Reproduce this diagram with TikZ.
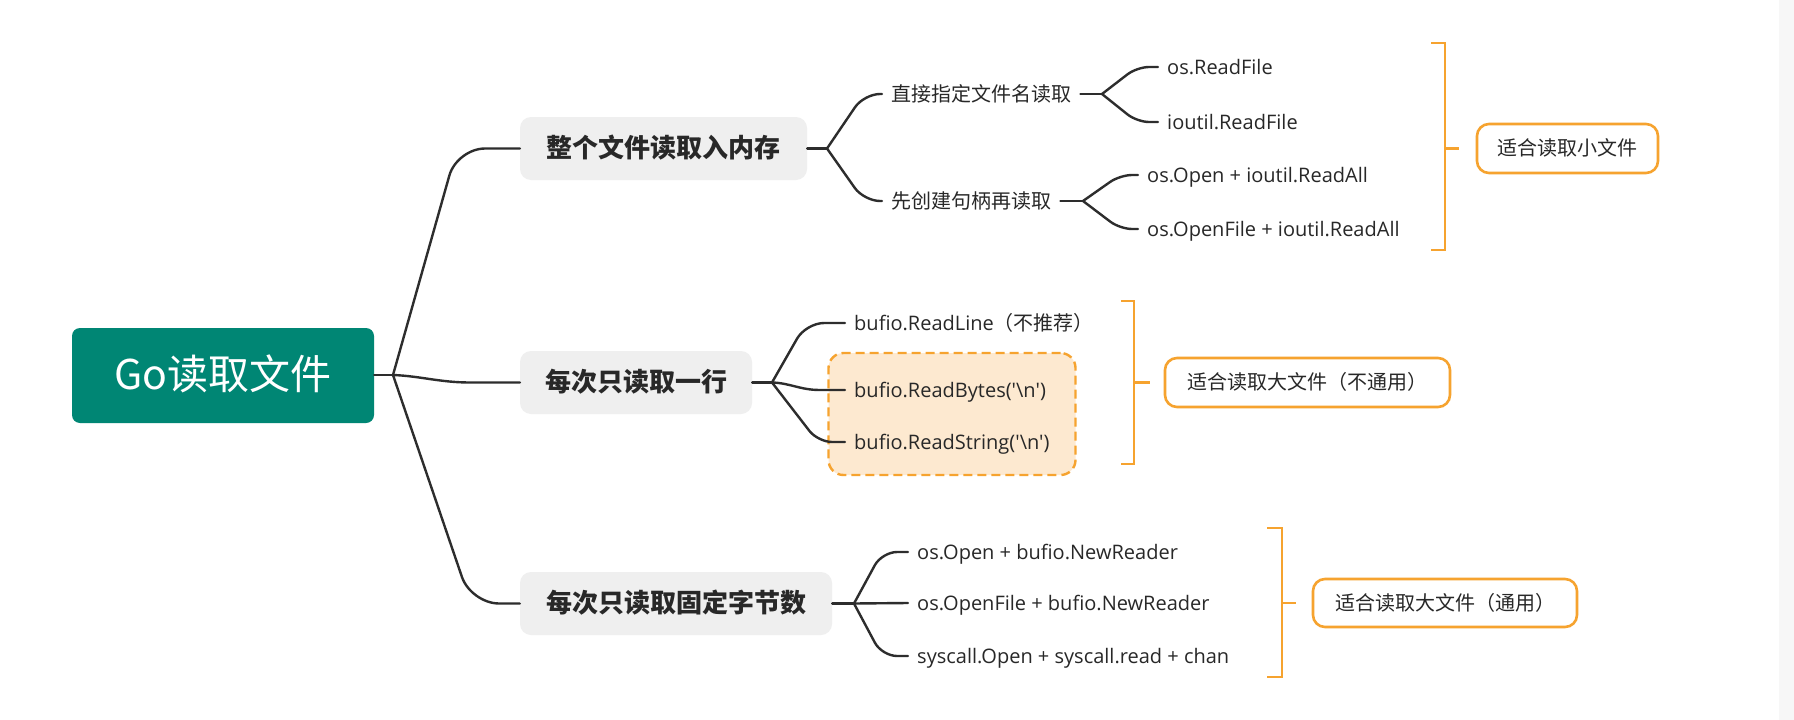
\documentclass[tikz,border=0pt]{standalone}
\usepackage{fontspec}
\setmainfont{Open Sans}
\newfontfamily\latin{Open Sans}
\newfontfamily\cjk{Noto Sans CJK SC}
\newcommand\zhtxt[1]{{\cjk #1}}
\definecolor{rootc}{RGB}{0,134,116}
\definecolor{grayc}{RGB}{239,239,239}
\definecolor{orangec}{RGB}{246,163,47}
\definecolor{peachc}{RGB}{253,233,208}
\definecolor{linec}{RGB}{45,45,45}
\definecolor{textc}{RGB}{40,40,40}
\tikzset{
  conn/.style={draw=linec, line width=2.4pt, line cap=round},
  brk/.style={draw=orangec, line width=2.6pt},
  rootbox/.style={fill=rootc, rounded corners=8pt, text=white, inner sep=0pt,
    minimum width=302pt, minimum height=95pt, font=\cjk\fontsize{41}{48}\selectfont,
    text height=33pt, text depth=5pt},
  lvone/.style={fill=grayc, rounded corners=11pt, text=textc, inner sep=0pt,
    minimum height=63pt, font=\cjk\bfseries\fontsize{26}{30}\selectfont,
    text height=21pt, text depth=3pt},
  leaf/.style={anchor=west, inner xsep=9pt, inner ysep=0pt, text=textc,
    font=\latin\fontsize{20}{24}\selectfont, text height=16pt, text depth=2pt},
  notebox/.style={draw=orangec, line width=2.6pt, fill=white, rounded corners=12pt,
    inner sep=0pt, text=textc, font=\cjk\fontsize{20}{24}\selectfont,
    text height=16pt, text depth=2pt},
}
\begin{document}
\begin{tikzpicture}[x=1pt,y=-1pt]
\useasboundingbox (0,0) rectangle (1794,720);
\fill[white] (0,0) rectangle (1794,720);
\fill[black!3] (1779,0) rectangle (1794,720);

% root
\node[rootbox] (root) at (223,375.5) {Go读取文件};

% level one
\node[lvone, minimum width=287pt] (b1) at (663.5,148.5) {整个文件读取入内存};
\node[lvone, minimum width=232pt] (b2) at (636,382.5) {每次只读取一行};
\node[lvone, minimum width=312pt] (b3) at (676,603.5) {每次只读取固定字节数};

% dashed highlight
\node[draw=orangec, dashed, dash pattern=on 9pt off 5pt, line width=2.4pt, fill=peachc,
  rounded corners=15pt, minimum width=247pt, minimum height=122pt, inner sep=0pt]
  (hl) at (952,414) {};

% level two / leaves
\node[leaf, font=\cjk\fontsize{20}{24}\selectfont] (t1a) at (882,94) {直接指定文件名读取};
\node[leaf, font=\cjk\fontsize{20}{24}\selectfont] (t1b) at (882,201) {先创建句柄再读取};
\node[leaf] (l1) at (1158,67) {os.ReadFile};
\node[leaf] (l2) at (1158,122) {ioutil.ReadFile};
\node[leaf] (l3) at (1138,175) {os.Open + ioutil.ReadAll};
\node[leaf] (l4) at (1138,229) {os.OpenFile + ioutil.ReadAll};

\node[leaf] (m1) at (845,323) {bufio.ReadLine\zhtxt{（不推荐）}};
\node[leaf] (m2) at (845,390) {bufio.ReadBytes('\textbackslash n')};
\node[leaf] (m3) at (845,442) {bufio.ReadString('\textbackslash n')};

\node[leaf] (n1) at (908,552) {os.Open + bufio.NewReader};
\node[leaf] (n2) at (908,603) {os.OpenFile + bufio.NewReader};
\node[leaf] (n3) at (908,656) {syscall.Open + syscall.read + chan};

% notes
\node[notebox, minimum width=181pt, minimum height=49pt] (o1) at (1567.5,148.5) {适合读取小文件};
\node[notebox, minimum width=285pt, minimum height=49pt] (o2) at (1307.5,382.5) {适合读取大文件（不通用）};
\node[notebox, minimum width=264pt, minimum height=48pt] (o3) at (1445,603) {适合读取大文件（通用）};

% junction coordinates
\coordinate (jr) at (393,375);
\coordinate (j1) at (827,148.5);
\coordinate (j2) at (772,382.5);
\coordinate (j3) at (854,603.5);
\coordinate (ja) at (1102,94);
\coordinate (jb) at (1083,201);

% root connectors
\draw[conn] (root.east |- jr) -- (jr);
\draw[conn, rounded corners=28pt] (jr) -- (457,148.5) -- (b1.west);
\draw[conn] (jr) .. controls (420,376) and (440,382.5) .. (470,382.5) -- (b2.west);
\draw[conn, rounded corners=28pt] (jr) -- (471,603.5) -- (b3.west);

% b1 branches
\draw[conn] (b1.east) -- (j1);
\draw[conn, rounded corners=16pt] (j1) -- (864,94) -- (t1a.west);
\draw[conn, rounded corners=16pt] (j1) -- (864,201) -- (t1b.west);
\draw[conn] (t1a.east) -- (ja);
\draw[conn, rounded corners=12pt] (ja) -- (1137,67) -- (l1.west);
\draw[conn, rounded corners=12pt] (ja) -- (1137,122) -- (l2.west);
\draw[conn] (t1b.east) -- (jb);
\draw[conn, rounded corners=12pt] (jb) -- (1120,175) -- (l3.west);
\draw[conn, rounded corners=12pt] (jb) -- (1120,229) -- (l4.west);

% b2 branches
\draw[conn] (b2.east) -- (j2);
\draw[conn, rounded corners=18pt] (j2) -- (806,323) -- (m1.west);
\draw[conn] (j2) .. controls (790,383) and (800,390) .. (820,390) -- (m2.west);
\draw[conn, rounded corners=14pt] (j2) -- (818,442) -- (m3.west);

% b3 branches
\draw[conn] (b3.east) -- (j3);
\draw[conn, rounded corners=15pt] (j3) -- (882,552) -- (n1.west);
\draw[conn] (j3) -- (n2.west);
\draw[conn, rounded corners=15pt] (j3) -- (882,656) -- (n3.west);

% brackets
\coordinate (k1) at (1445,148.5);
\draw[brk] (1431,43) -- (1445,43) -- (1445,250) -- (1431,250);
\draw[brk] (k1) -- ([xshift=-17pt]o1.west);
\coordinate (k2) at (1134,382.5);
\draw[brk] (1121,301) -- (1134,301) -- (1134,464) -- (1121,464);
\draw[brk] (k2) -- ([xshift=-14pt]o2.west);
\coordinate (k3) at (1282,603);
\draw[brk] (1267,528) -- (1282,528) -- (1282,677) -- (1267,677);
\draw[brk] (k3) -- ([xshift=-16pt]o3.west);
\end{tikzpicture}
\end{document}
